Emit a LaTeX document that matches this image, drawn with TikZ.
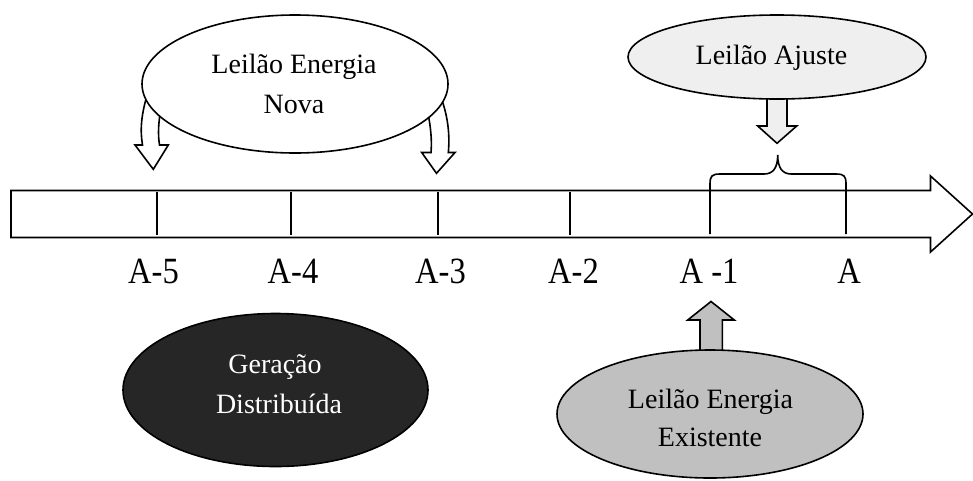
\documentclass[tikz,border=0pt]{standalone}
\usepackage{fontspec}
\setmainfont{Liberation Serif}
\usetikzlibrary{shapes.geometric}
\definecolor{lightfill}{HTML}{EFEFEF}
\definecolor{midgray}{HTML}{C0C0C0}
\definecolor{darkfill}{HTML}{262626}
\tikzset{
  outl/.style={draw=black, line width=1.6pt, line join=miter},
  ell/.style={ellipse, outl, inner sep=0pt},
  elltext/.style={anchor=base, inner sep=0pt, font=\fontsize{28}{34}\selectfont},
  axlabel/.style={anchor=base, inner sep=0pt, font=\fontsize{37}{40}\selectfont},
  tick/.style={line width=1.6pt}
}
\newcommand{\sq}[1]{\scalebox{0.88}[1]{#1}}
\begin{document}
\begin{tikzpicture}[x=1pt,y=-1pt]
\useasboundingbox (0,0) rectangle (973,480);

% timeline arrow
\draw[outl, fill=white] (11,190.5) -- (930.5,190.5) -- (930.5,176) -- (972.5,214)
  -- (930.5,252) -- (930.5,237.5) -- (11,237.5) -- cycle;

% ticks
\foreach \xx/\nm in {157/t5, 291/t4, 438/t3, 570/t2}{
  \coordinate (\nm a) at (\xx,192);
  \coordinate (\nm b) at (\xx,235);
  \draw[tick] (\nm a) -- (\nm b);
}

% brace
\draw[line width=1.6pt] (710,234) -- (710,184) .. controls (710,176) and (712,174) .. (720,174)
  -- (764,174) .. controls (773,174) and (777.7,168) .. (777.7,155)
  .. controls (777.7,168) and (782.4,174) .. (791.4,174)
  -- (836,174) .. controls (844,174) and (846,176) .. (846,184) -- (846,234);

% axis labels
\node[axlabel] (l5) at (153.5,283.5) {\sq{A-5}};
\node[axlabel] (l4) at (293,283.5) {\sq{A-4}};
\node[axlabel] (l3) at (440.5,283.5) {\sq{A-3}};
\node[axlabel] (l2) at (573.5,283.5) {\sq{A-2}};
\node[axlabel] (l1) at (709,283.5) {\sq{A -1}};
\node[axlabel] (l0) at (849,283.5) {\sq{A}};

% curved arrows from Leilao Energia Nova
\draw[outl, fill=white] (148,92) .. controls (141,115) and (140,130) .. (142.5,145)
  -- (135,145) -- (153.3,169.3) -- (168.3,145) -- (159.5,145)
  .. controls (158,135) and (158,125) .. (161,108) -- cycle;
\draw[outl, fill=white] (440,95) .. controls (448,115) and (450,135) .. (448.3,152.5)
  -- (455,152.5) -- (436.5,173.3) -- (421.7,152.5) -- (431,152.5)
  .. controls (432,140) and (431,128) .. (427,108) -- cycle;

% down arrow from Leilao Ajuste
\draw[outl, fill=lightfill] (767,92) -- (767,126) -- (757.7,126) -- (777,143.3)
  -- (796.7,126) -- (787,126) -- (787,92) -- cycle;

% up arrow to A-1
\draw[outl, fill=midgray] (700,355) -- (700,320) -- (687.7,320) -- (711,301.5)
  -- (734.3,320) -- (722.3,320) -- (722.3,355) -- cycle;

% ellipses
\node[ell, fill=white, minimum width=306pt, minimum height=138pt] (nova) at (295,84) {};
\node[ell, fill=lightfill, minimum width=298pt, minimum height=84pt] (ajuste) at (777,57) {};
\node[ell, fill=darkfill, minimum width=305pt, minimum height=153pt] (gd) at (275.5,390) {};
\node[ell, fill=midgray, minimum width=306pt, minimum height=128pt] (exist) at (710,414) {};

% ellipse texts
\node[elltext] (nova1) at (294,73.3) {Leilão Energia};
\node[elltext] (nova2) at (294,113.3) {Nova};
\node[elltext] (aj1) at (771.5,64.5) {Leilão Ajuste};
\node[elltext, text=white] (gd1) at (275,373.3) {Geração};
\node[elltext, text=white] (gd2) at (279,413.3) {Distribuída};
\node[elltext] (ex1) at (710.5,408) {Leilão Energia};
\node[elltext] (ex2) at (710,446.7) {Existente};
\end{tikzpicture}
\end{document}
